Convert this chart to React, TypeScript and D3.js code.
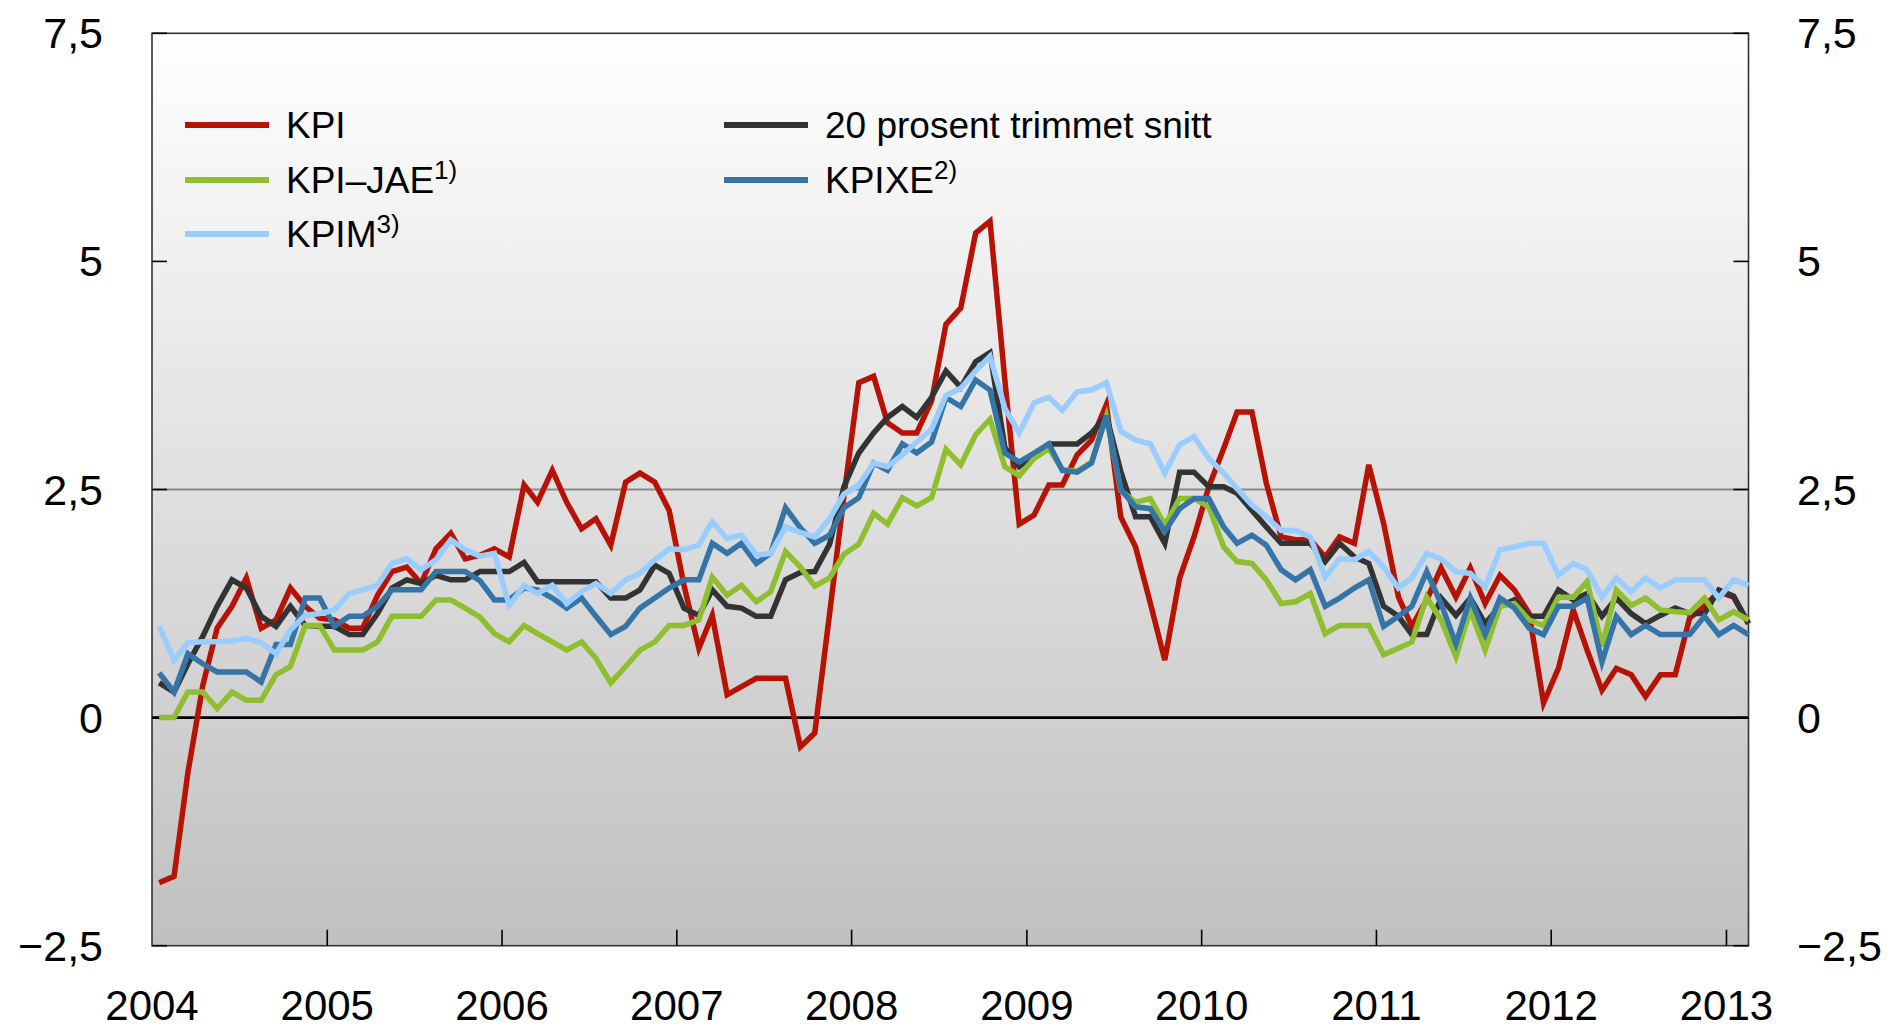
import React, { useEffect, useRef } from 'react';
import * as d3 from 'd3';

// Monthly 12-month change, Jan 2004 - Feb 2013
const kpi = [
  -1.81, -1.74, -0.6, 0.35, 0.98, 1.22, 1.53, 0.98, 1.07, 1.42, 1.22, 1.09,
  1.07, 0.98, 0.98, 1.34, 1.6, 1.65, 1.47, 1.85, 2.02, 1.74, 1.78, 1.85,
  1.76, 2.55, 2.36, 2.71, 2.36, 2.07, 2.18, 1.89, 2.58, 2.68, 2.58, 2.27,
  1.45, 0.76, 1.12, 0.25, 0.34, 0.43, 0.43, 0.43, -0.32, -0.17, 1.14, 2.43,
  3.67, 3.74, 3.23, 3.12, 3.12, 3.47, 4.31, 4.49, 5.31, 5.44, 3.7, 2.12,
  2.22, 2.55, 2.55, 2.88, 3.04, 3.43, 2.2, 1.87, 1.25, 0.63, 1.53, 1.98,
  2.53, 2.95, 3.35, 3.35, 2.57, 1.98, 1.95, 1.95, 1.76, 1.98, 1.91, 2.77,
  2.13, 1.32, 1.0, 1.29, 1.64, 1.32, 1.64, 1.25, 1.56, 1.4, 1.14, 0.16,
  0.54, 1.18, 0.74, 0.3, 0.54, 0.47, 0.23, 0.47, 0.47, 1.09, 1.22, 1.38,
  1.32, 1.03
];

const kpiJae = [
  0, 0, 0.28, 0.28, 0.1, 0.28, 0.19, 0.19, 0.47, 0.56, 1.01, 1.01,
  0.74, 0.74, 0.74, 0.83, 1.11, 1.11, 1.11, 1.29, 1.29, 1.2, 1.1, 0.92,
  0.83, 1.01, 0.92, 0.83, 0.74, 0.83, 0.65, 0.38, 0.56, 0.74, 0.83, 1.01,
  1.01, 1.07, 1.54, 1.34, 1.45, 1.27, 1.38, 1.82, 1.65, 1.44, 1.53, 1.79,
  1.9, 2.24, 2.12, 2.41, 2.32, 2.41, 2.94, 2.77, 3.1, 3.27, 2.75, 2.65,
  2.84, 2.95, 2.72, 2.7, 2.8, 3.3, 2.49, 2.36, 2.4, 2.11, 2.4, 2.4,
  2.31, 1.87, 1.71, 1.69, 1.51, 1.25, 1.27, 1.36, 0.92, 1.01, 1.01, 1.01,
  0.69, 0.76, 0.83, 1.32, 1.07, 0.67, 1.18, 0.74, 1.22, 1.25, 1.07, 1.01,
  1.32, 1.32, 1.49, 0.78, 1.4, 1.23, 1.31, 1.18, 1.16, 1.15, 1.31, 1.07,
  1.16, 1.07
];

const trimmet = [
  0.38, 0.28, 0.59, 0.89, 1.22, 1.51, 1.42, 1.11, 1.0, 1.22, 1.01, 1.0,
  1.0, 0.91, 0.91, 1.14, 1.42, 1.51, 1.47, 1.56, 1.51, 1.51, 1.6, 1.6,
  1.6, 1.7, 1.49, 1.49, 1.49, 1.49, 1.49, 1.31, 1.31, 1.4, 1.67, 1.58,
  1.2, 1.12, 1.4, 1.22, 1.2, 1.11, 1.11, 1.51, 1.59, 1.6, 1.9, 2.53,
  2.9, 3.12, 3.29, 3.41, 3.29, 3.51, 3.8, 3.62, 3.9, 4.0, 2.96, 2.75,
  2.88, 3.0, 3.0, 3.0, 3.12, 3.31, 2.7, 2.2, 2.2, 1.91, 2.69, 2.69,
  2.53, 2.53, 2.46, 2.27, 2.09, 1.91, 1.91, 1.91, 1.71, 1.91, 1.76, 1.69,
  1.22, 1.11, 0.91, 0.91, 1.31, 1.12, 1.31, 1.03, 1.22, 1.29, 1.11, 1.11,
  1.4, 1.29, 1.36, 1.11, 1.31, 1.14, 1.03, 1.12, 1.2, 1.14, 1.14, 1.4,
  1.33, 1.03
];

const kpixe = [
  0.49, 0.28, 0.7, 0.59, 0.5, 0.5, 0.5, 0.39, 0.8, 0.8, 1.31, 1.31,
  1.0, 1.11, 1.11, 1.22, 1.4, 1.4, 1.4, 1.6, 1.6, 1.6, 1.5, 1.29,
  1.29, 1.42, 1.4, 1.31, 1.2, 1.31, 1.11, 0.91, 1.0, 1.2, 1.31, 1.42,
  1.51, 1.51, 1.91, 1.8, 1.91, 1.69, 1.8, 2.3, 2.08, 1.91, 2.0, 2.3,
  2.41, 2.79, 2.71, 3.0, 2.9, 3.02, 3.51, 3.41, 3.7, 3.59, 2.9, 2.8,
  2.9, 3.0, 2.71, 2.69, 2.79, 3.31, 2.5, 2.31, 2.29, 2.04, 2.29, 2.4,
  2.4, 2.09, 1.91, 2.0, 1.89, 1.62, 1.51, 1.62, 1.22, 1.31, 1.42, 1.51,
  1.0, 1.11, 1.22, 1.6, 1.25, 0.81, 1.31, 0.91, 1.31, 1.2, 0.98, 0.91,
  1.22, 1.22, 1.31, 0.61, 1.11, 0.91, 1.01, 0.91, 0.91, 0.91, 1.11, 0.91,
  1.01, 0.91
];

const kpim = [
  1.0, 0.63, 0.82, 0.83, 0.83, 0.84, 0.87, 0.82, 0.7, 0.96, 1.12, 1.14,
  1.18, 1.36, 1.4, 1.45, 1.69, 1.74, 1.62, 1.73, 1.95, 1.84, 1.77, 1.8,
  1.23, 1.45, 1.36, 1.45, 1.25, 1.38, 1.47, 1.36, 1.51, 1.58, 1.73, 1.85,
  1.84, 1.89, 2.15, 1.96, 2.0, 1.78, 1.8, 2.09, 2.03, 1.98, 2.18, 2.45,
  2.55, 2.79, 2.75, 2.88, 3.02, 3.16, 3.53, 3.61, 3.8, 3.96, 3.39, 3.12,
  3.45, 3.51, 3.37, 3.57, 3.59, 3.67, 3.14, 3.04, 3.0, 2.68, 2.99, 3.08,
  2.84, 2.68, 2.51, 2.33, 2.2, 2.05, 2.05, 1.98, 1.54, 1.74, 1.73, 1.82,
  1.65, 1.42, 1.53, 1.8, 1.74, 1.6, 1.58, 1.43, 1.84, 1.87, 1.91, 1.91,
  1.56, 1.69, 1.62, 1.32, 1.53, 1.38, 1.53, 1.42, 1.51, 1.51, 1.51, 1.31,
  1.51, 1.45
];

const yTicks = [-2.5, 0, 2.5, 5, 7.5];
const years = [2004, 2005, 2006, 2007, 2008, 2009, 2010, 2011, 2012, 2013];

const fmt = (v: number) => (v < 0 ? '\u2212' : '') + String(Math.abs(v)).replace('.', ',');

export default function App() {
  const ref = useRef<SVGSVGElement>(null);

  useEffect(() => {
    const svg = d3.select(ref.current);
    svg.selectAll('*').remove();

    const left = 152, right = 1748.5, top = 33.3, bottom = 945.7;
    const font = '"Liberation Sans", Arial, Helvetica, sans-serif';

    const x = d3.scaleTime()
      .domain([new Date(2004, 0, 1), new Date(2013, 1, 16)])
      .range([left, right]);
    const y = d3.scaleLinear().domain([-2.5, 7.5]).range([bottom, top]);
    const monthDate = (i: number) => new Date(2004, i, 16);

    const grad = svg.append('defs').append('linearGradient')
      .attr('id', 'bg').attr('x1', 0).attr('y1', 0).attr('x2', 0).attr('y2', 1);
    grad.append('stop').attr('offset', '0%').attr('stop-color', '#ffffff');
    grad.append('stop').attr('offset', '100%').attr('stop-color', '#c0c0c0');

    svg.append('rect')
      .attr('x', left).attr('y', top)
      .attr('width', right - left).attr('height', bottom - top)
      .attr('fill', 'url(#bg)');

    // reference lines
    svg.append('line')
      .attr('x1', left).attr('x2', right).attr('y1', y(2.5)).attr('y2', y(2.5))
      .attr('stroke', '#8a8a8a').attr('stroke-width', 2.2);
    svg.append('line')
      .attr('x1', left).attr('x2', right).attr('y1', y(0)).attr('y2', y(0))
      .attr('stroke', '#000').attr('stroke-width', 2.6);

    // frame
    svg.append('rect')
      .attr('x', left).attr('y', top)
      .attr('width', right - left).attr('height', bottom - top)
      .attr('fill', 'none').attr('stroke', '#333').attr('stroke-width', 1.6);

    // ticks
    yTicks.forEach(t => {
      svg.append('line').attr('x1', left).attr('x2', left + 15)
        .attr('y1', y(t)).attr('y2', y(t)).attr('stroke', '#000').attr('stroke-width', 1.6);
      svg.append('line').attr('x1', right - 15).attr('x2', right)
        .attr('y1', y(t)).attr('y2', y(t)).attr('stroke', '#000').attr('stroke-width', 1.6);
      svg.append('text').attr('x', 103).attr('y', y(t) + 15)
        .attr('text-anchor', 'end').attr('font-family', font).attr('font-size', 43)
        .attr('fill', '#000').text(fmt(t));
      svg.append('text').attr('x', 1797).attr('y', y(t) + 15)
        .attr('text-anchor', 'start').attr('font-family', font).attr('font-size', 43)
        .attr('fill', '#000').text(fmt(t));
    });

    years.forEach(yr => {
      const xp = x(new Date(yr, 0, 1));
      if (yr > 2004) {
        svg.append('line').attr('x1', xp).attr('x2', xp)
          .attr('y1', bottom).attr('y2', bottom - 16)
          .attr('stroke', '#000').attr('stroke-width', 1.6);
      }
      svg.append('text').attr('x', xp).attr('y', 1020)
        .attr('text-anchor', 'middle').attr('font-family', font).attr('font-size', 42)
        .attr('fill', '#000').text(String(yr));
    });

    const line = d3.line<number>()
      .x((d, i) => x(monthDate(i)))
      .y(d => y(d));

    const drawn: [number[], string][] = [
      [kpi, '#b81204'],
      [trimmet, '#333333'],
      [kpiJae, '#8fbe2e'],
      [kpixe, '#3574a7'],
      [kpim, '#99ccff'],
    ];
    drawn.forEach(([vals, color]) => {
      svg.append('path')
        .datum(vals)
        .attr('d', line)
        .attr('fill', 'none')
        .attr('stroke', color)
        .attr('stroke-width', 5.5);
    });

    // legend
    const legend: [number, number, string, string, string][] = [
      [185, 125, '#b81204', 'KPI', ''],
      [185, 180, '#8fbe2e', 'KPI\u2013JAE', '1)'],
      [185, 234, '#99ccff', 'KPIM', '3)'],
      [724, 125, '#333333', '20 prosent trimmet snitt', ''],
      [724, 180, '#3574a7', 'KPIXE', '2)'],
    ];
    legend.forEach(([lx, ly, color, label, sup]) => {
      svg.append('line')
        .attr('x1', lx).attr('x2', lx + 84).attr('y1', ly).attr('y2', ly)
        .attr('stroke', color).attr('stroke-width', 6);
      const t = svg.append('text')
        .attr('x', lx + 101).attr('y', ly + 13)
        .attr('font-family', font).attr('font-size', 37).attr('fill', '#000');
      t.append('tspan').text(label);
      if (sup) {
        t.append('tspan').attr('font-size', 26).attr('dy', -14).text(sup);
      }
    });
  }, []);

  return (
    <svg
      ref={ref}
      width={1892}
      height={1030}
      style={{ position: 'absolute', left: 0, top: 0, background: '#fff' }}
    />
  );
}
